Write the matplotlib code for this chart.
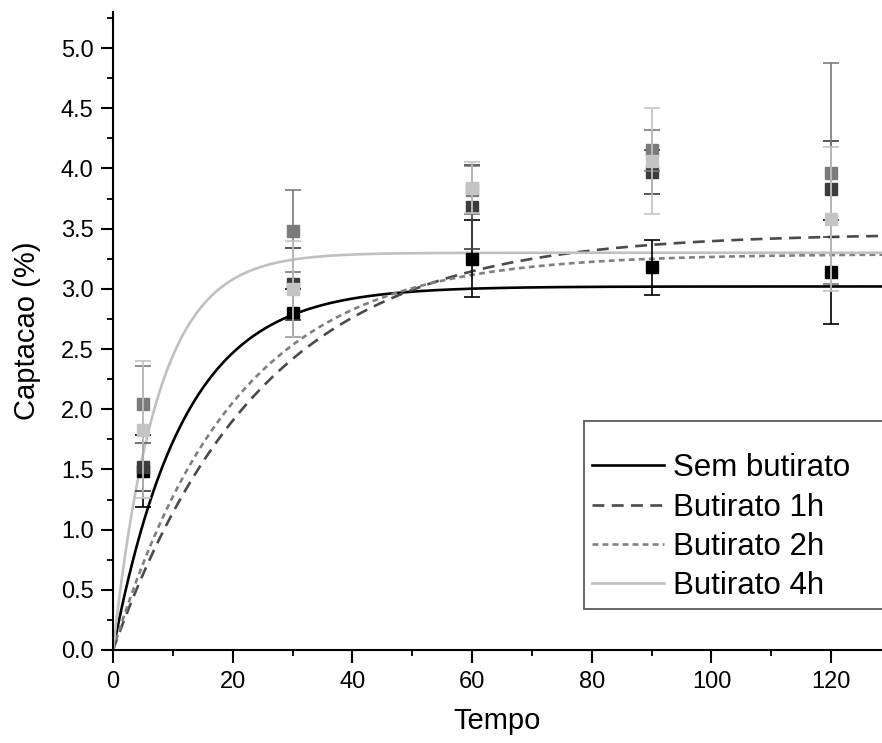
import numpy as np
import matplotlib
matplotlib.use("Agg")
import matplotlib.pyplot as plt

plt.rcParams["font.family"] = ["Liberation Sans", "DejaVu Sans"]

# sampling times
tempo = [5, 30, 60, 90, 120]

labels = ["Sem butirato", "Butirato 1h", "Butirato 2h", "Butirato 4h"]
colors = ["#000000", "#3c3c3c", "#7a7a7a", "#c4c4c4"]
line_colors = ["#000000", "#4a4a4a", "#808080", "#c0c0c0"]

# measured uptake (%) and error bars
sem_butirato = [1.49, 2.80, 3.25, 3.18, 3.14]
sem_err = [0.30, 0.20, 0.32, 0.23, 0.43]
butirato_1h = [1.52, 3.04, 3.68, 3.97, 3.83]
err_1h = [0.20, 0.30, 0.35, 0.18, 0.40]
butirato_2h = [2.04, 3.48, 3.82, 4.15, 3.96]
err_2h = [0.32, 0.34, 0.20, 0.17, 0.92]
butirato_4h = [1.83, 3.00, 3.84, 4.06, 3.58]
err_4h = [0.57, 0.40, 0.21, 0.44, 0.60]

# fitted model y = A * (1 - exp(-k t))
plateau = [3.02, 3.46, 3.29, 3.30]
rate = [0.085, 0.040, 0.049, 0.135]

series = [sem_butirato, butirato_1h, butirato_2h, butirato_4h]
errors = [sem_err, err_1h, err_2h, err_4h]
dash_styles = ["-", (0, (4.5, 2.8)), (0, (2.2, 1.6)), "-"]

fig = plt.figure(figsize=(8.82, 7.43), dpi=100)
ax = fig.add_axes([113 / 882, 93 / 743, (882 - 113) / 882, 638 / 743])

t = np.linspace(0, 130, 400)
for i in range(4):
    ax.plot(t, plateau[i] * (1 - np.exp(-rate[i] * t)), linestyle=dash_styles[i],
            color=line_colors[i], lw=1.9, label=labels[i], zorder=2)

for i in range(4):
    ax.errorbar(tempo, series[i], yerr=errors[i], fmt="s", color=colors[i],
                ecolor=colors[i], mec=colors[i], ms=9, elinewidth=1.2,
                capsize=5.5, capthick=1.2, zorder=3 + i)

ax.set_xlim(0, 128.5)
ax.set_ylim(0, 5.3)
ax.set_xticks(range(0, 121, 20))
ax.set_xticks(range(0, 129, 10), minor=True)
ax.set_yticks(np.arange(0, 5.01, 0.5))
ax.set_yticks(np.arange(0, 5.26, 0.25), minor=True)
ax.set_yticklabels([f"{v:.1f}" for v in np.arange(0, 5.01, 0.5)])

for side in ["top", "right"]:
    ax.spines[side].set_visible(False)
for side in ["left", "bottom"]:
    ax.spines[side].set_linewidth(1.5)

ax.tick_params(axis="both", which="major", direction="out", length=9, width=1.5,
               labelsize=17)
ax.tick_params(axis="y", which="major", pad=5)
ax.tick_params(axis="x", which="major", pad=6)
ax.tick_params(axis="both", which="minor", direction="out", length=4.5, width=1.3)

ax.set_xlabel("Tempo", fontsize=21, labelpad=10)
ax.set_ylabel("Captacao (%)", fontsize=21, labelpad=14)

# legend box runs off the right edge, as in the original
leg = ax.legend(loc="upper left",
                bbox_to_anchor=(584 / 882, 0.1, 0.36, 1 - 421 / 743 - 0.1),
                bbox_transform=fig.transFigure, mode="expand", fontsize=22.5,
                frameon=True, fancybox=False, handlelength=2.3,
                handletextpad=0.3, labelspacing=0.3, borderpad=0.25,
                borderaxespad=0, title=" ", title_fontsize=12)
leg.get_frame().set_edgecolor("#333333")
leg.get_frame().set_linewidth(1.3)

fig.savefig("out.png", dpi=100, facecolor="white")
